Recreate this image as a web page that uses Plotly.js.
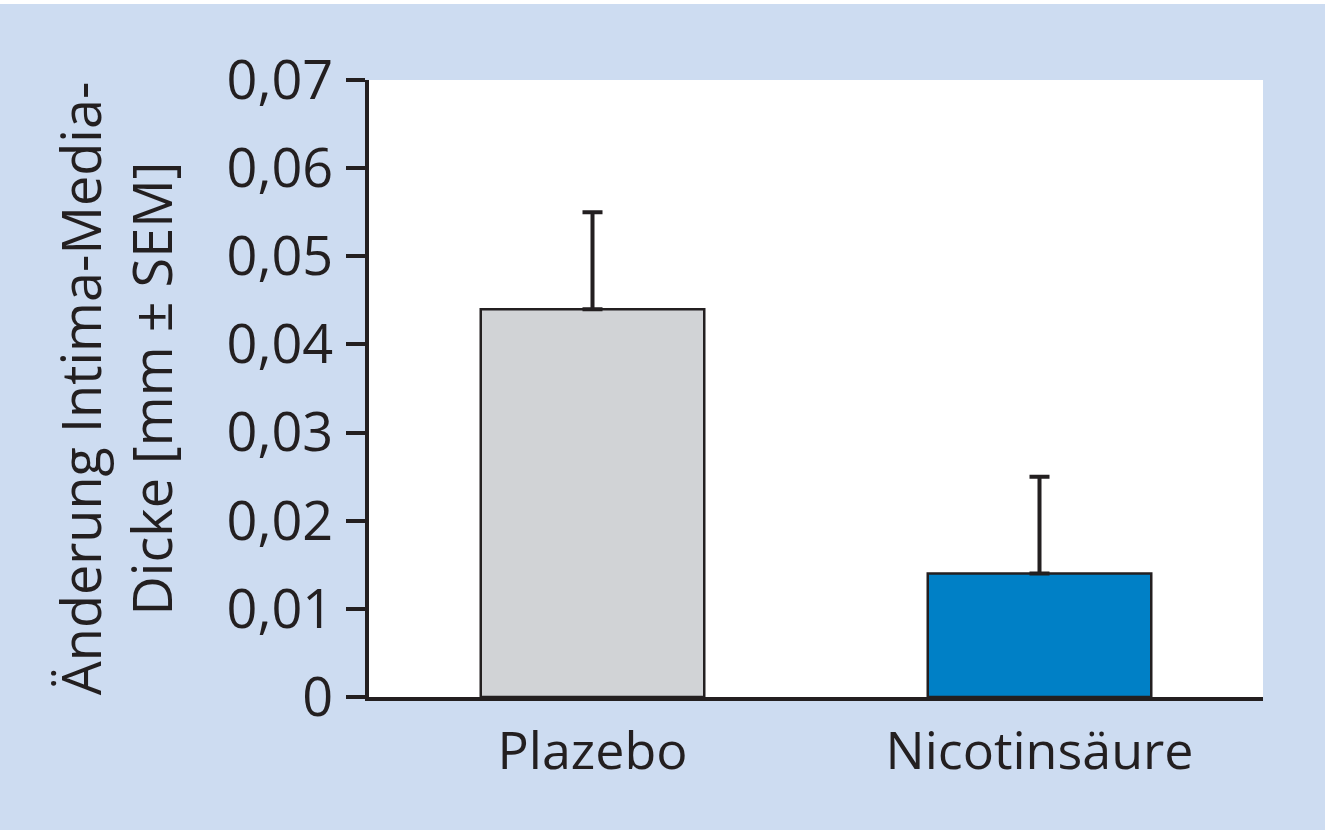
<!DOCTYPE html>
<html>
<head>
<meta charset="utf-8">
<script src="https://cdn.plot.ly/plotly-3.0.1.min.js"></script>
<style>
  html, body { margin: 0; padding: 0; background: #ffffff; }
  #chart { position: absolute; left: 0; top: 4px; width: 1325px; height: 826px; }
</style>
</head>
<body>
<div id="chart"></div>
<script>
const categories = ['Plazebo', 'Nicotinsäure'];
const meanChange = [0.044, 0.014];
const semPlus = [0.011, 0.011];
const barColors = ['#d1d3d6', '#0080c6'];
const yTickVals = [0, 0.01, 0.02, 0.03, 0.04, 0.05, 0.06, 0.07];
const yTickText = ['0', '0,01', '0,02', '0,03', '0,04', '0,05', '0,06', '0,07'];

const ink = '#231f20';
const fontFamily = '"Open Sans", "Noto Sans", sans-serif';

const trace = {
  type: 'bar',
  x: categories,
  y: meanChange,
  width: 0.5,
  marker: { color: barColors, line: { color: ink, width: 2.5 } },
  error_y: {
    type: 'data',
    symmetric: false,
    array: semPlus,
    arrayminus: [0, 0],
    color: ink,
    thickness: 4,
    width: 10
  },
  hoverinfo: 'none'
};

const layout = {
  width: 1325,
  height: 826,
  paper_bgcolor: '#cddcf1',
  plot_bgcolor: '#ffffff',
  showlegend: false,
  margin: { l: 369, r: 62, t: 76, b: 133, pad: 0 },
  font: { family: fontFamily, color: ink, size: 52 },
  xaxis: {
    type: 'category',
    range: [-0.5, 1.5],
    showline: true,
    linecolor: ink,
    linewidth: 4,
    ticks: '',
    showgrid: false,
    zeroline: false,
    tickfont: { size: 52, color: ink, family: fontFamily },
    ticklabelstandoff: 6,
    fixedrange: true
  },
  yaxis: {
    range: [0, 0.07],
    tickvals: yTickVals,
    ticktext: yTickText,
    showline: true,
    linecolor: ink,
    linewidth: 4,
    ticks: 'outside',
    ticklen: 19,
    tickwidth: 4,
    tickcolor: ink,
    showgrid: false,
    zeroline: false,
    tickfont: { size: 54, color: ink, family: fontFamily },
    ticklabelstandoff: 2,
    automargin: false,
    title: {
      text: 'Änderung Intima-Media-<br>Dicke [mm ± SEM]',
      font: { size: 54, color: ink, family: fontFamily },
      standoff: 38
    },
    fixedrange: true
  }
};

Plotly.newPlot('chart', [trace], layout, { staticPlot: true, displayModeBar: false });
</script>
</body>
</html>
